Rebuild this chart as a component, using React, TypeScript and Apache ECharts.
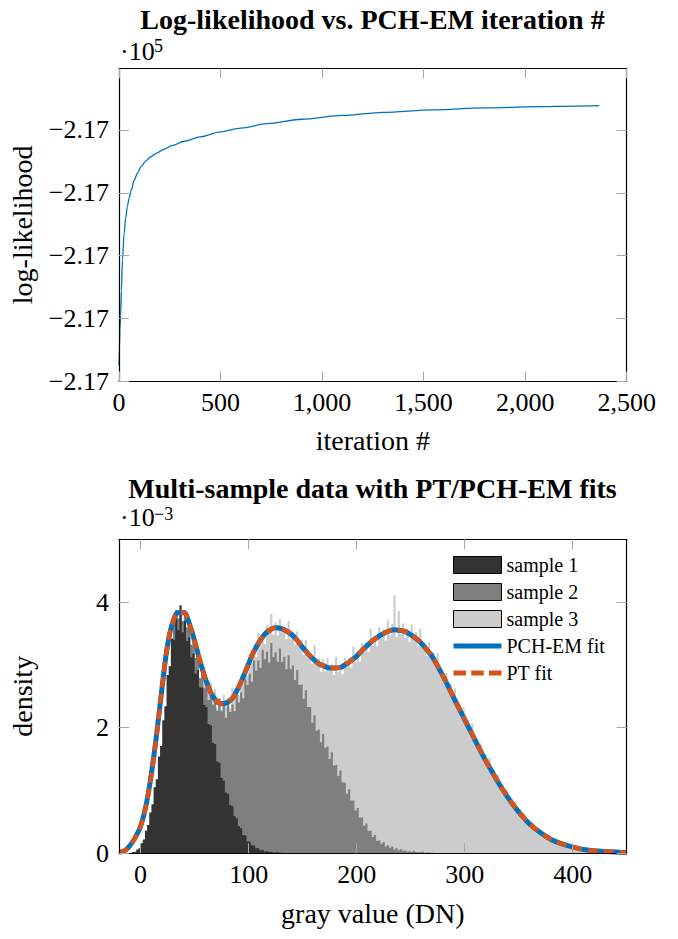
import React, { useEffect, useRef } from "react";
import * as echarts from "echarts";

// ---------- Top chart: log-likelihood vs iteration ----------
const iterations = [0, 2, 5, 8, 12, 17, 25, 33, 41, 50, 60, 75, 90, 110, 130, 155, 185, 220, 260, 320, 400, 500, 600, 730, 900, 1100, 1300, 1550, 1800, 2050, 2250, 2365];
const logLikelihood = [-217037.5, -217034.5, -217031.5, -217029.5, -217025.5, -217020.7, -217016.5, -217014.0, -217012.2, -217010.8, -217009.6, -217008.0, -217006.9, -217005.8, -217005.0, -217004.3, -217003.7, -217003.1, -217002.5, -217001.8, -217001.1, -217000.3, -216999.7, -216999.0, -216998.3, -216997.7, -216997.2, -216996.8, -216996.5, -216996.3, -216996.2, -216996.15];
const llTicks = [-217040, -217030, -217020, -217010, -217000];
const iterTicks = [0, 500, 1000, 1500, 2000, 2500];

// ---------- Bottom chart: histograms (2 DN bins) and fits ----------
const binWidth = 2;
const sample1Start = -8;
const sample1 = [0.02, 0.03, 0.06, 0.08, 0.16, 0.22, 0.36, 0.45, 0.65, 0.78,
  1.05, 1.18, 1.54, 1.71, 2.12, 2.34, 2.84, 2.98, 3.42, 3.40,
  3.78, 3.55, 3.95, 3.52, 3.70, 3.38, 3.44, 3.12, 3.18, 2.86,
  2.92, 2.64, 2.65, 2.36, 2.33, 2.06, 2.04, 1.76, 1.74, 1.46,
  1.44, 1.20, 1.16, 0.97, 0.95, 0.77, 0.75, 0.59, 0.56, 0.43,
  0.40, 0.29, 0.28, 0.19, 0.18, 0.13, 0.12, 0.08, 0.08, 0.05,
  0.06, 0.03, 0.04, 0.02, 0.03, 0.01, 0.02, 0.01, 0.01];
const sample2Start = 30;
const sample2 = [3.65, 3.88, 3.74, 3.88, 3.70, 3.87, 3.60, 3.59, 3.32, 3.40,
  3.11, 3.10, 2.79, 2.92, 2.63, 2.65, 2.44, 2.61, 2.37, 2.42,
  2.27, 2.47, 2.26, 2.35, 2.16, 2.38, 2.25, 2.37, 2.26, 2.56,
  2.40, 2.56, 2.47, 2.77, 2.68, 2.86, 2.73, 3.07, 2.91, 3.07,
  2.95, 3.24, 3.09, 3.21, 3.04, 3.35, 3.12, 3.20, 3.05, 3.26,
  3.05, 3.13, 2.93, 3.15, 2.93, 2.99, 2.76, 2.92, 2.68, 2.69,
  2.46, 2.60, 2.33, 2.33, 2.08, 2.20, 1.95, 1.97, 1.77, 1.90,
  1.68, 1.70, 1.50, 1.61, 1.40, 1.41, 1.23, 1.32, 1.13, 1.12,
  0.95, 1.02, 0.84, 0.84, 0.68, 0.72, 0.57, 0.57, 0.44, 0.48,
  0.36, 0.36, 0.26, 0.29, 0.20, 0.21, 0.15, 0.18, 0.11, 0.13,
  0.09, 0.11, 0.06, 0.08, 0.05, 0.07, 0.04, 0.05, 0.03, 0.04,
  0.02, 0.04, 0.02, 0.02, 0.01, 0.03, 0.01, 0.02, 0.01, 0.01,
  0.01];
const sample3Start = 56;
const sample3 = [2.95, 2.97, 2.68, 2.74, 2.72, 2.45, 2.62, 2.31, 2.42, 2.29,
  2.52, 2.34, 2.48, 2.31, 2.64, 2.47, 2.62, 2.52, 2.81, 2.71,
  2.87, 2.83, 3.17, 3.03, 3.27, 3.13, 3.51, 3.32, 3.48, 3.33,
  3.63, 3.51, 3.81, 3.48, 3.67, 3.47, 3.73, 3.52, 3.60, 3.41,
  3.70, 3.42, 3.52, 3.33, 3.53, 3.32, 3.40, 3.16, 3.40, 3.13,
  3.19, 3.02, 3.31, 3.01, 3.10, 2.89, 3.09, 2.90, 3.11, 2.93,
  3.01, 2.84, 3.13, 2.89, 3.00, 2.85, 3.11, 2.97, 3.11, 2.96,
  3.29, 3.05, 3.19, 3.06, 3.34, 3.20, 3.37, 3.20, 3.58, 3.31,
  3.44, 3.30, 3.60, 3.43, 3.57, 3.39, 3.71, 3.47, 3.65, 4.11,
  3.44, 3.86, 3.50, 3.66, 3.43, 3.58, 3.37, 3.64, 3.42, 3.52,
  3.29, 3.57, 3.27, 3.35, 3.14, 3.36, 3.12, 3.20, 2.97, 3.19,
  2.89, 2.92, 2.71, 2.87, 2.64, 2.69, 2.44, 2.63, 2.34, 2.38,
  2.17, 2.32, 2.09, 2.13, 1.90, 2.07, 1.81, 1.83, 1.63, 1.75,
  1.55, 1.58, 1.38, 1.52, 1.31, 1.33, 1.15, 1.25, 1.06, 1.10,
  0.93, 1.02, 0.86, 0.88, 0.74, 0.82, 0.67, 0.70, 0.57, 0.63,
  0.51, 0.53, 0.43, 0.48, 0.39, 0.41, 0.32, 0.36, 0.28, 0.30,
  0.24, 0.26, 0.20, 0.22, 0.17, 0.19, 0.15, 0.16, 0.13, 0.13,
  0.11, 0.11, 0.09, 0.09, 0.08, 0.07, 0.07, 0.06, 0.06, 0.05,
  0.05, 0.04, 0.04, 0.04, 0.03, 0.03, 0.03, 0.03, 0.02, 0.02,
  0.02, 0.02, 0.02, 0.01, 0.01, 0.01, 0.01];

const fitX = [-20, -15, -10, -5, 0, 5, 10, 15, 20, 25, 30, 35, 40, 45, 50, 55, 60, 65, 70, 75, 80, 85, 90, 95, 100, 105, 110, 115, 120, 125, 130, 135, 140, 145, 150, 155, 160, 165, 170, 175, 180, 185, 190, 195, 200, 205, 210, 215, 220, 225, 230, 235, 240, 245, 250, 255, 260, 265, 270, 275, 280, 285, 290, 295, 300, 305, 310, 315, 320, 325, 330, 335, 340, 345, 350, 355, 360, 370, 380, 390, 400, 410, 420, 430, 440, 450];
const pchEmFit = [0.02, 0.04, 0.12, 0.25, 0.43, 0.76, 1.27, 1.92, 2.66, 3.32, 3.69, 3.83, 3.83, 3.66, 3.38, 3.06, 2.78, 2.56, 2.43, 2.38, 2.40, 2.47, 2.62, 2.81, 3.02, 3.22, 3.37, 3.49, 3.56, 3.59, 3.58, 3.54, 3.48, 3.39, 3.28, 3.18, 3.09, 3.02, 2.98, 2.95, 2.95, 2.96, 3.01, 3.07, 3.14, 3.23, 3.31, 3.39, 3.45, 3.50, 3.54, 3.56, 3.55, 3.53, 3.48, 3.42, 3.34, 3.24, 3.13, 2.98, 2.82, 2.65, 2.47, 2.30, 2.13, 1.96, 1.79, 1.62, 1.46, 1.31, 1.16, 1.02, 0.89, 0.77, 0.66, 0.56, 0.47, 0.33, 0.22, 0.15, 0.10, 0.06, 0.04, 0.03, 0.02, 0.01];
const ptFit = [0.02, 0.04, 0.12, 0.25, 0.43, 0.76, 1.27, 1.92, 2.66, 3.32, 3.69, 3.83, 3.83, 3.66, 3.38, 3.06, 2.78, 2.56, 2.43, 2.38, 2.40, 2.47, 2.62, 2.81, 3.02, 3.22, 3.37, 3.49, 3.56, 3.59, 3.58, 3.54, 3.48, 3.39, 3.28, 3.18, 3.09, 3.02, 2.98, 2.95, 2.95, 2.96, 3.01, 3.07, 3.14, 3.23, 3.31, 3.39, 3.45, 3.50, 3.54, 3.56, 3.55, 3.53, 3.48, 3.42, 3.34, 3.24, 3.13, 2.98, 2.82, 2.65, 2.47, 2.30, 2.13, 1.96, 1.79, 1.62, 1.46, 1.31, 1.16, 1.02, 0.89, 0.77, 0.66, 0.56, 0.47, 0.33, 0.22, 0.15, 0.10, 0.06, 0.04, 0.03, 0.02, 0.01];
const densityTicks = [0, 2, 4];
const grayTicks = [0, 100, 200, 300, 400];

const FONT = "Liberation Serif, Times New Roman, serif";

function histData(start: number, vals: number[]) {
  const pts: number[][] = vals.map((v, i) => [start + i * binWidth, v]);
  pts.push([start + vals.length * binWidth, 0]);
  return pts;
}

export default function App() {
  const ref = useRef<HTMLDivElement>(null);
  useEffect(() => {
    if (!ref.current) return;
    const chart = echarts.init(ref.current, undefined, { renderer: "svg" });

    const axisLineStyle = { show: true, onZero: false, lineStyle: { color: "#000", width: 1.2 } };
    const tick = (vals: number[]) => ({ show: true, inside: true, length: 10, customValues: vals, lineStyle: { color: "#a6a6a6", width: 1 } });
    const labelFont = { fontFamily: FONT, fontSize: 26, color: "#000" };
    const nameFont = { fontFamily: FONT, fontSize: 28, color: "#000", align: "center", verticalAlign: "middle" };
    const minus = (s: string) => s.replace("-", "\u2212");

    const histSeries = (name: string, start: number, vals: number[], color: string) => ({
      name,
      type: "line",
      xAxisIndex: 2,
      yAxisIndex: 2,
      step: "end",
      symbol: "none",
      silent: true,
      data: histData(start, vals),
      lineStyle: { width: 0, color },
      itemStyle: { color },
      areaStyle: { color, opacity: 1 },
    });

    const option: any = {
      animation: false,
      backgroundColor: "#fff",
      title: [
        {
          text: "Log-likelihood vs. PCH-EM iteration #",
          left: 372.5, top: 5, textAlign: "center", padding: 0,
          textStyle: { fontFamily: FONT, fontSize: 28, fontWeight: "bold", color: "#000", lineHeight: 28 },
        },
        {
          text: "Multi-sample data with PT/PCH-EM fits",
          left: 372.5, top: 474, textAlign: "center", padding: 0,
          textStyle: { fontFamily: FONT, fontSize: 28, fontWeight: "bold", color: "#000", lineHeight: 28 },
        },
      ],
      grid: [
        { left: 118.3, top: 68.3, width: 508.4, height: 313.2, show: false },
        { left: 118.3, top: 539.3, width: 508.4, height: 314, show: false },
      ],
      xAxis: [
        {
          gridIndex: 0, type: "value", position: "bottom", min: 0, max: 2500, z: 10,
          axisLine: axisLineStyle, axisTick: tick(iterTicks), splitLine: { show: false },
          axisLabel: { ...labelFont, margin: 8, customValues: iterTicks, formatter: (v: number) => v.toLocaleString("en-US") },
          name: "iteration #", nameLocation: "middle", nameGap: 59, nameTextStyle: nameFont,
        },
        {
          gridIndex: 0, type: "value", position: "top", min: 0, max: 2500, z: 10,
          axisLine: axisLineStyle, axisTick: tick(iterTicks), splitLine: { show: false }, axisLabel: { show: false },
        },
        {
          gridIndex: 1, type: "value", position: "bottom", min: -20, max: 450, z: 10,
          axisLine: axisLineStyle, axisTick: tick(grayTicks), splitLine: { show: false },
          axisLabel: { ...labelFont, margin: 8, customValues: grayTicks },
          name: "gray value (DN)", nameLocation: "middle", nameGap: 60, nameTextStyle: nameFont,
        },
        {
          gridIndex: 1, type: "value", position: "top", min: -20, max: 450, z: 10,
          axisLine: axisLineStyle, axisTick: tick(grayTicks), splitLine: { show: false }, axisLabel: { show: false },
        },
      ],
      yAxis: [
        {
          gridIndex: 0, type: "value", position: "left", min: -217040, max: -216990.2, z: 10,
          axisLine: axisLineStyle, axisTick: tick(llTicks), splitLine: { show: false },
          axisLabel: { ...labelFont, margin: 10, customValues: llTicks, formatter: (v: number) => minus((v / 1e5).toFixed(2)) },
          name: "log-likelihood", nameLocation: "middle", nameRotate: 90, nameGap: 97, nameTextStyle: nameFont,
        },
        {
          gridIndex: 0, type: "value", position: "right", min: -217040, max: -216990.2, z: 10,
          axisLine: axisLineStyle, axisTick: tick(llTicks), splitLine: { show: false }, axisLabel: { show: false },
        },
        {
          gridIndex: 1, type: "value", position: "left", min: 0, max: 5, z: 10,
          axisLine: axisLineStyle, axisTick: tick(densityTicks), splitLine: { show: false },
          axisLabel: { ...labelFont, margin: 10, customValues: densityTicks },
          name: "density", nameLocation: "middle", nameRotate: 90, nameGap: 97, nameTextStyle: nameFont,
        },
        {
          gridIndex: 1, type: "value", position: "right", min: 0, max: 5, z: 10,
          axisLine: axisLineStyle, axisTick: tick(densityTicks), splitLine: { show: false }, axisLabel: { show: false },
        },
      ],
      legend: {
        orient: "vertical",
        left: 453, top: 555, padding: 0,
        itemWidth: 48, itemHeight: 17, itemGap: 7,
        selectedMode: false,
        textStyle: { fontFamily: FONT, fontSize: 20, color: "#000", lineHeight: 17 },
        data: [
          { name: "sample 1", icon: "rect", itemStyle: { color: "#333333", borderColor: "#000", borderWidth: 1 } },
          { name: "sample 2", icon: "rect", itemStyle: { color: "#7f7f7f", borderColor: "#000", borderWidth: 1 } },
          { name: "sample 3", icon: "rect", itemStyle: { color: "#cccccc", borderColor: "#000", borderWidth: 1 } },
          { name: "PCH-EM fit", icon: "path://M0,0H48V5H0Z", itemStyle: { color: "#0072BD", borderWidth: 0 } },
          { name: "PT fit", icon: "path://M0,0H12V5H0Z M17,0H29V5H17Z M34,0H46V5H34Z", itemStyle: { color: "#D95319", borderWidth: 0 } },
        ],
      },
      graphic: [
        { type: "text", x: 120, y: 51.2, style: { text: "\u00b710", fontFamily: FONT, fontSize: 26, fill: "#000", align: "left", verticalAlign: "middle" } },
        { type: "text", x: 154, y: 45.9, style: { text: "5", fontFamily: FONT, fontSize: 18, fill: "#000", align: "left", verticalAlign: "middle" } },
        { type: "text", x: 120, y: 517, style: { text: "\u00b710", fontFamily: FONT, fontSize: 26, fill: "#000", align: "left", verticalAlign: "middle" } },
        { type: "text", x: 154, y: 513.5, style: { text: "\u22123", fontFamily: FONT, fontSize: 18, fill: "#000", align: "left", verticalAlign: "middle" } },
      ],
      series: [
        {
          name: "log-likelihood", type: "line", xAxisIndex: 0, yAxisIndex: 0, symbol: "none",
          smooth: 0.3, smoothMonotone: "x",
          data: iterations.map((x, i) => [x, logLikelihood[i]]),
          lineStyle: { color: "#0072BD", width: 1.3 },
        },
        histSeries("sample 3", sample3Start, sample3, "#cccccc"),
        histSeries("sample 2", sample2Start, sample2, "#7f7f7f"),
        histSeries("sample 1", sample1Start, sample1, "#333333"),
        {
          name: "PCH-EM fit", type: "line", xAxisIndex: 2, yAxisIndex: 2, symbol: "none", smooth: 0.4,
          data: fitX.map((x, i) => [x, pchEmFit[i]]),
          lineStyle: { color: "#0072BD", width: 5, cap: "butt" },
          itemStyle: { color: "#0072BD" },
        },
        {
          name: "PT fit", type: "line", xAxisIndex: 2, yAxisIndex: 2, symbol: "none", smooth: 0.4,
          data: fitX.map((x, i) => [x, ptFit[i]]),
          lineStyle: { color: "#D95319", width: 4.5, type: [10, 6], cap: "butt" },
          itemStyle: { color: "#D95319" },
        },
      ],
    };
    chart.setOption(option);
    return () => chart.dispose();
  }, []);
  return <div ref={ref} style={{ position: "absolute", left: 0, top: 0, width: 678, height: 939 }} />;
}
